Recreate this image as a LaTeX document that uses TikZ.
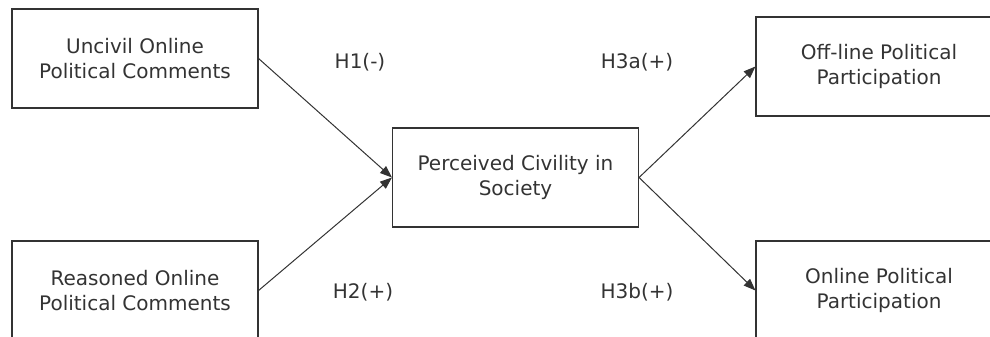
\documentclass[tikz,border=0pt]{standalone}
\usepackage{fontspec}
\setmainfont{DejaVu Sans}
\usetikzlibrary{arrows.meta}
\usepackage{xcolor}

\begin{document}
\begin{tikzpicture}[x=1pt,y=-1pt]
    \useasboundingbox (0,0) rectangle (990,337);
    \clip (0,0) rectangle (990,337);

    \begin{scope}[every node/.style={rectangle,draw=black!80,line width=1.1pt,
        minimum width=246pt,minimum height=99pt,inner sep=0pt,align=center,
        text=black!80,font=\fontsize{20}{25}\selectfont}]
      \node (uncivil) at (135,58.5) {Uncivil Online\\Political Comments};
      \node (reasoned) at (135,290.5) {Reasoned Online\\Political Comments};
      \node (civility) at (515.5,177.5) {Perceived Civility in\\Society};
      \node (offline) at (879,66.5) {Off-line Political\\Participation};
      \node (online) at (879,290.5) {Online Political\\Participation};
    \end{scope}

    \begin{scope}[>={Triangle[length=12pt,width=9pt]},
        every edge/.style={draw=black!80,line width=1pt}]
      \path [->] (uncivil.east) edge (civility.west);
      \path [->] (reasoned.east) edge (civility.west);
      \path [->] (civility.east) edge (offline.west);
      \path [->] (civility.east) edge (online.west);
    \end{scope}

    \begin{scope}[every node/.style={text=black!80,font=\fontsize{20}{25}\selectfont}]
      \node (h1) at (360,62) {H1(-)};
      \node (h2) at (363,292) {H2(+)};
      \node (h3a) at (637,62) {H3a(+)};
      \node (h3b) at (637,292) {H3b(+)};
    \end{scope}
  \end{tikzpicture}
\end{document}
